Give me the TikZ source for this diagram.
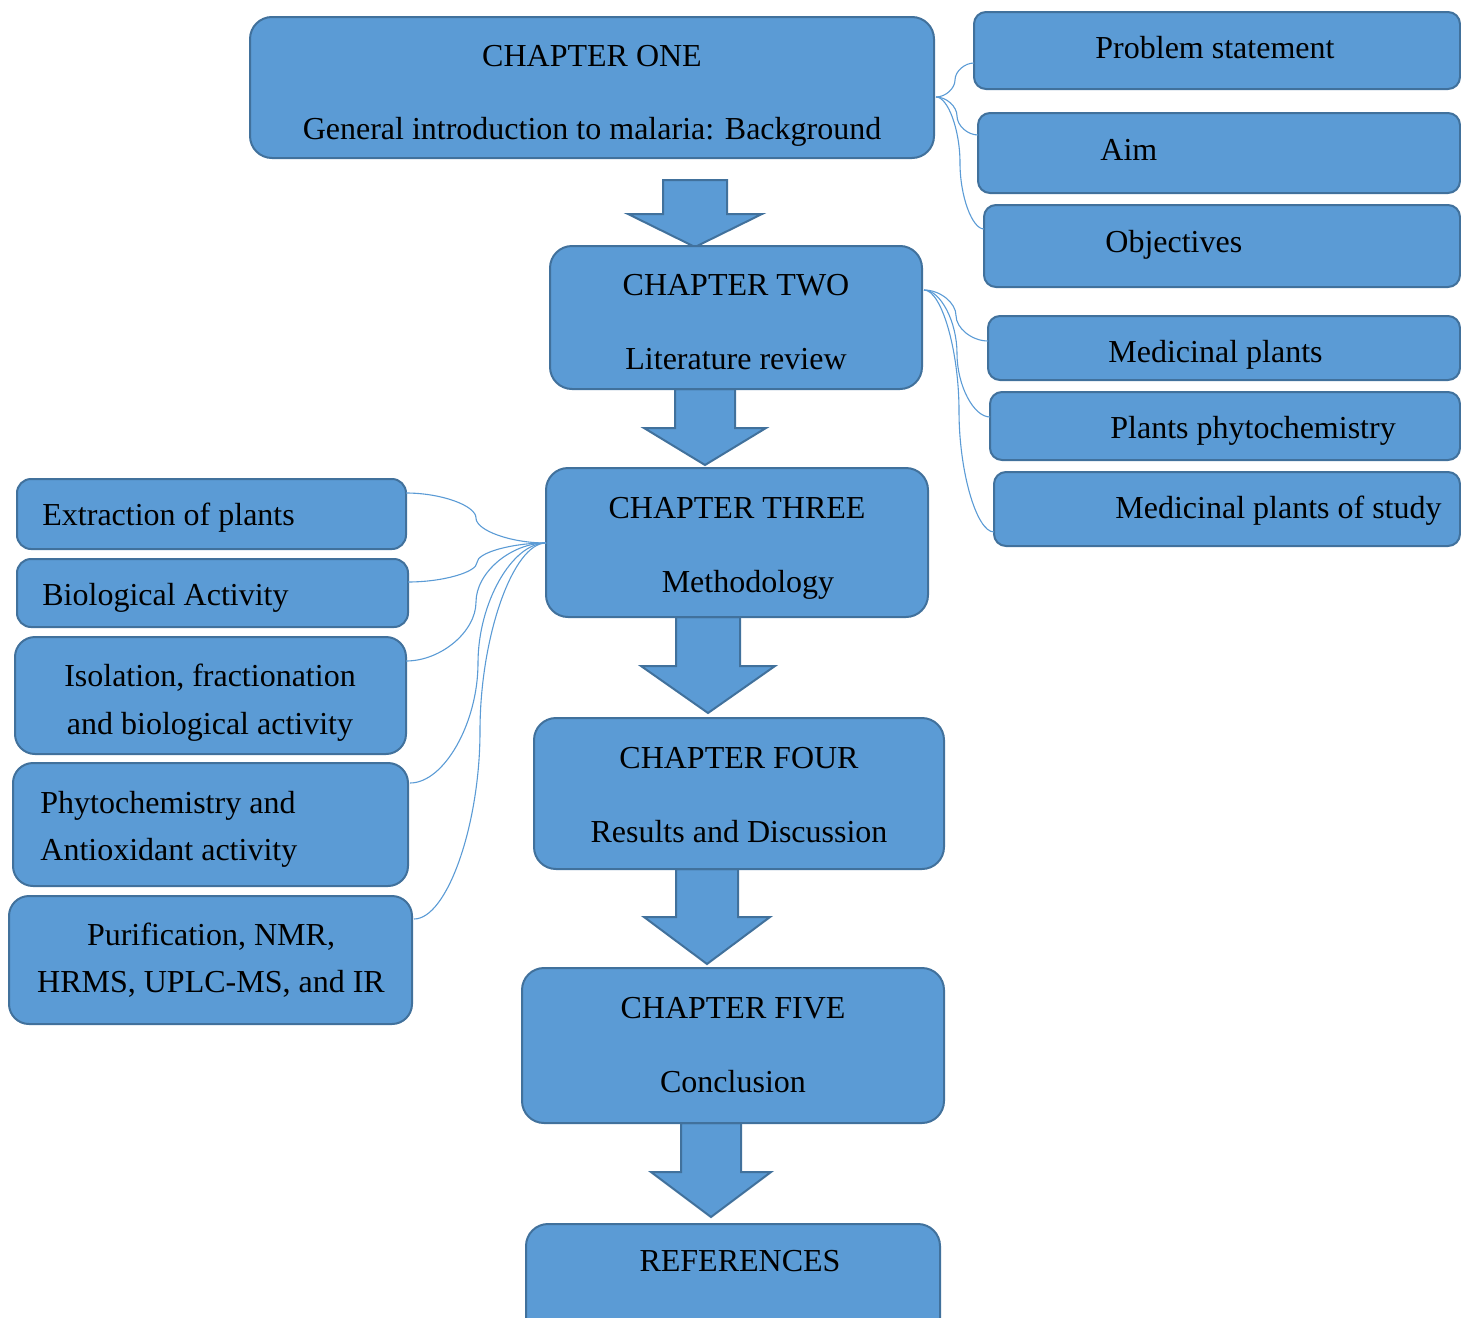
\documentclass[tikz,border=0pt]{standalone}
\usepackage{fontspec}
\setmainfont{Liberation Serif}
\usetikzlibrary{calc,fit}
\definecolor{boxfill}{HTML}{5B9BD5}
\definecolor{boxline}{HTML}{41719C}
\definecolor{connline}{HTML}{5B9BD5}
\tikzset{
  basebox/.style={draw=boxline, fill=boxfill, line width=1pt, inner sep=0pt, outer sep=0pt},
  mainbox/.style={basebox, rounded corners=11pt},
  sidebox/.style={basebox, rounded corners=6pt},
  leftbox/.style={basebox, rounded corners=7pt},
  bigleft/.style={basebox, rounded corners=10pt},
  lbl/.style={font=\fontsize{16}{19}\selectfont, inner sep=0pt, text=black},
  conn/.style={draw=connline, line width=0.55pt},
  blockarrow/.style={draw=boxline, fill=boxfill, line width=1pt, line join=miter}
}
\newcommand\mybox[6]{\node[#1, fit={(#3,#4) (#5,#6)}] (#2) {};}
% cx, top, head y, tip y, shaft half width, head half width
\newcommand\downblock[6]{%
  \draw[blockarrow] ({#1-#5},#2) -- ({#1+#5},#2) -- ({#1+#5},#3) -- ({#1+#6},#3)
    -- (#1,#4) -- ({#1-#6},#3) -- ({#1-#5},#3) -- cycle;}
\newcommand\curvlink[2]{%
  \coordinate (cM) at ($(#1)!0.5!(#2)$);
  \coordinate (cA) at (#1 -| cM);
  \coordinate (cB) at (#2 -| cM);
  \draw[conn] (#1) .. controls ($(#1)!0.5!(cA)$) and ($(cM)!0.5!(cA)$) .. (cM)
     .. controls ($(cM)!0.5!(cB)$) and ($(#2)!0.5!(cB)$) .. (#2);}
\begin{document}
\begin{tikzpicture}[x=0.5pt, y=-0.5pt]
\useasboundingbox (0,0) rectangle (1461,1317);
\clip (0,0) rectangle (1461,1317);

% block arrows (behind boxes)
\downblock{695}{180}{214}{247}{32}{67}
\downblock{705}{389}{428}{465}{30}{61}
\downblock{708}{617}{666}{713}{32}{67}
\downblock{707}{869}{917}{964}{31}{63}
\downblock{711}{1123}{1172}{1217}{30}{60}

% main boxes
\mybox{mainbox}{CH1}{250}{17}{934}{158}
\mybox{mainbox}{CH2}{550}{246}{922}{389}
\mybox{mainbox}{CH3}{546}{468}{928}{617}
\mybox{mainbox}{CH4}{534}{718}{944}{869}
\mybox{mainbox}{CH5}{522}{968}{944}{1123}
\mybox{mainbox}{REF}{526}{1224}{940}{1345}

% right boxes
\mybox{sidebox}{R1}{974}{12}{1460}{89}
\mybox{sidebox}{R2}{978}{113}{1460}{193}
\mybox{sidebox}{R3}{984}{205}{1460}{287}
\mybox{sidebox}{R4}{988}{316}{1460}{380}
\mybox{sidebox}{R5}{990}{392}{1460}{460}
\mybox{sidebox}{R6}{994}{472}{1460}{546}

% left boxes
\mybox{leftbox}{L1}{17}{479}{406}{549}
\mybox{leftbox}{L2}{17}{559}{408}{627}
\mybox{bigleft}{L3}{15}{637}{406}{754}
\mybox{bigleft}{L4}{13}{763}{408}{886}
\mybox{bigleft}{L5}{9}{896}{412}{1024}

% connector end points
\coordinate (s1) at ($(CH1.east)+(2,9.5)$);
\coordinate (e1) at ($(R1.west)+(0,12.5)$);
\coordinate (e2) at ($(R2.west)+(0,-18)$);
\coordinate (e3) at ($(R3.west)+(0,-17)$);
\coordinate (s2) at ($(CH2.east)+(2,-27.5)$);
\coordinate (e4) at ($(R4.west)+(0,-7)$);
\coordinate (e5) at ($(R5.west)+(0,-9)$);
\coordinate (e6) at ($(R6.west)+(0,23)$);
\coordinate (s3) at ($(CH3.west)+(0,0.5)$);
\coordinate (f1) at ($(L1.east)+(0,-21)$);
\coordinate (f2) at ($(L2.east)+(0,-11)$);
\coordinate (f3) at ($(L3.east)+(0,-34.5)$);
\coordinate (f4) at ($(L4.east)+(2,-41.5)$);
\coordinate (f5) at ($(L5.east)+(2,-41)$);

\curvlink{s1}{e1}
\curvlink{s1}{e2}
\curvlink{s1}{e3}
\curvlink{s2}{e4}
\curvlink{s2}{e5}
\curvlink{s2}{e6}
\curvlink{f1}{s3}
\curvlink{f2}{s3}
\curvlink{f3}{s3}
\curvlink{f4}{s3}
\curvlink{f5}{s3}

% main texts
\node[lbl, anchor=base] (t1a) at (592,66) {CHAPTER ONE};
\node[lbl, anchor=base] (t1b) at (592,139) {General introduction to malaria: Background};
\node[lbl, anchor=base] (t2a) at (736,295) {CHAPTER TWO};
\node[lbl, anchor=base] (t2b) at (736,369) {Literature review};
\node[lbl, anchor=base] (t3a) at (737,518) {CHAPTER THREE};
\node[lbl, anchor=base] (t3b) at (748,592) {Methodology};
\node[lbl, anchor=base] (t4a) at (739,768) {CHAPTER FOUR};
\node[lbl, anchor=base] (t4b) at (739,842) {Results and Discussion};
\node[lbl, anchor=base] (t5a) at (733,1018) {CHAPTER FIVE};
\node[lbl, anchor=base] (t5b) at (733,1092) {Conclusion};
\node[lbl, anchor=base] (t6) at (740,1271) {REFERENCES};

% right texts
\node[lbl, anchor=base west] (r1) at (1095,58) {Problem statement};
\node[lbl, anchor=base west] (r2) at (1100,160) {Aim};
\node[lbl, anchor=base west] (r3) at (1105,252) {Objectives};
\node[lbl, anchor=base west] (r4) at (1108,362) {Medicinal plants};
\node[lbl, anchor=base west] (r5) at (1110,438) {Plants phytochemistry};
\node[lbl, anchor=base west] (r6) at (1115,518) {Medicinal plants of study};

% left texts
\node[lbl, anchor=base west] (l1) at (42,525) {Extraction of plants};
\node[lbl, anchor=base west] (l2) at (42,605) {Biological Activity};
\node[lbl, anchor=base] (l3a) at (210,686) {Isolation, fractionation};
\node[lbl, anchor=base] (l3b) at (210,734) {and biological activity};
\node[lbl, anchor=base west] (l4a) at (40,813) {Phytochemistry and};
\node[lbl, anchor=base west] (l4b) at (40,860) {Antioxidant activity};
\node[lbl, anchor=base] (l5a) at (211,945) {Purification, NMR,};
\node[lbl, anchor=base] (l5b) at (211,992) {HRMS, UPLC-MS, and IR};
\end{tikzpicture}
\end{document}
